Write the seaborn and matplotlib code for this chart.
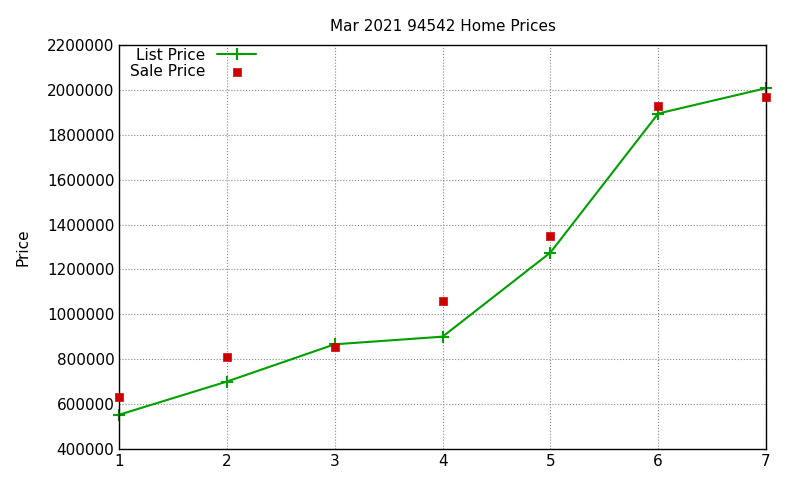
import matplotlib
matplotlib.use("Agg")
import matplotlib.pyplot as plt
import seaborn as sns
import pandas as pd

x = [1, 2, 3, 4, 5, 6, 7]
list_price = [552000, 700000, 866000, 900000, 1275000, 1895000, 2008000]
sale_price = [630000, 810000, 852000, 1060000, 1350000, 1930000, 1968000]

sns.set_style("white")
plt.rcParams['font.family'] = ['DejaVu Sans']
plt.rcParams['text.color'] = 'black'
plt.rcParams['axes.labelcolor'] = 'black'
fig = plt.figure(figsize=(8, 4.8), dpi=100)
ax = fig.add_axes([0.149, 0.065, 0.8085, 0.841])
df = pd.DataFrame({"x": x, "list": list_price, "sale": sale_price})
sns.lineplot(data=df, x="x", y="list", ax=ax, color="#00a000", marker="+",
             markersize=9, markeredgewidth=1.5, markeredgecolor="#00a000",
             linewidth=1.5, label="List Price", clip_on=False)
sns.scatterplot(data=df, x="x", y="sale", ax=ax, color="#cc0000", marker="s",
                s=36, edgecolor="#cc0000", label="Sale Price", zorder=3,
                clip_on=False)
ax.set_xlim(1, 7)
ax.set_ylim(400000, 2200000)
ax.set_yticks(range(400000, 2200001, 200000))
ax.set_yticklabels([str(v) for v in range(400000, 2200001, 200000)])
ax.grid(True, color="#888888", linestyle=":", linewidth=0.8)
for s in ax.spines.values():
    s.set_color("black"); s.set_linewidth(1)
ax.tick_params(direction="in", length=5, labelsize=11, colors="black")
ax.set_xlabel("")
ax.set_ylabel("Price", fontsize=11, labelpad=12, color="black")
ax.set_title("Mar 2021 94542 Home Prices", fontsize=11, pad=10, color="black")
ax.legend(loc="upper left", frameon=False, markerfirst=False, fontsize=11,
          bbox_to_anchor=(0.0, 1.02), handlelength=2.5, borderpad=0.2,
          labelspacing=0.1)
for t in ax.get_legend().get_texts():
    t.set_ha("right")
fig.savefig("out.png", dpi=100)
